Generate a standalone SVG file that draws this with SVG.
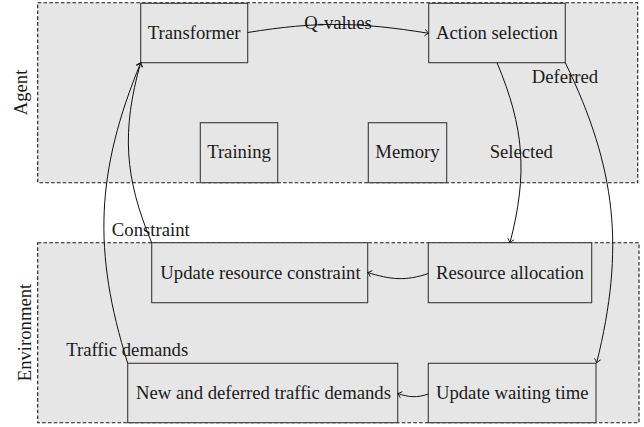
<svg xmlns="http://www.w3.org/2000/svg" width="644" height="427" viewBox="0 0 644 427">
  <defs>
    <style>
      .area { fill: #e6e6e6; stroke: #1a1a1a; stroke-width: 1.1; stroke-dasharray: 3.6 2.2; }
      .node rect { fill: #e6e6e6; stroke: #3a3a3a; stroke-width: 1.1; }
      text { font-family: "Liberation Serif", "Times New Roman", serif; font-size: 18.7px; fill: #1a1a1a; }
      .node text { text-anchor: middle; }
      .lbl { text-anchor: middle; }
      .edge { fill: none; stroke: #111; stroke-width: 1; marker-end: url(#arr); }
    </style>
    <marker id="arr" markerUnits="userSpaceOnUse" markerWidth="10" markerHeight="10" viewBox="-5 -5 10 10" refX="0" refY="0" orient="auto">
      <path d="M-3.8,-3.2 Q-1.6,-0.9 0,0 Q-1.6,0.9 -3.8,3.2" fill="none" stroke="#111" stroke-width="0.9"/>
    </marker>
  </defs>

  <g id="agent-area">
    <rect class="area" x="37.7" y="2.7" width="600" height="180"/>
    <text transform="translate(27,92.5) rotate(-90)" text-anchor="middle">Agent</text>
  </g>
  <g id="environment-area">
    <rect class="area" x="37.7" y="242.7" width="601.3" height="180"/>
    <text transform="translate(31.3,332.5) rotate(-90)" text-anchor="middle">Environment</text>
  </g>

  <g id="transformer" class="node">
    <rect x="140.7" y="3.3" width="107" height="59.4"/>
    <text x="194.2" y="38.6">Transformer</text>
  </g>
  <g id="action-selection" class="node">
    <rect x="428.7" y="3.3" width="136.6" height="59.4"/>
    <text x="497" y="38.8">Action selection</text>
  </g>
  <g id="training" class="node">
    <rect x="200.3" y="122.7" width="77.4" height="60"/>
    <text x="239" y="157.5">Training</text>
  </g>
  <g id="memory" class="node">
    <rect x="368.3" y="122.7" width="78.4" height="60"/>
    <text x="407.5" y="157.5">Memory</text>
  </g>
  <g id="update-resource-constraint" class="node">
    <rect x="151.7" y="242.7" width="216" height="60"/>
    <text x="260.5" y="278.5">Update resource constraint</text>
  </g>
  <g id="resource-allocation" class="node">
    <rect x="428.3" y="242.7" width="163.4" height="60"/>
    <text x="510" y="278.5">Resource allocation</text>
  </g>
  <g id="new-deferred-demands" class="node">
    <rect x="127.7" y="363.3" width="270" height="59.4"/>
    <text x="263.5" y="399">New and deferred traffic demands</text>
  </g>
  <g id="update-waiting-time" class="node">
    <rect x="428.3" y="363.3" width="167.7" height="59.4"/>
    <text x="512.2" y="399">Update waiting time</text>
  </g>

  <g id="labels">
    <text class="lbl" x="338" y="29">Q-values</text>
    <text class="lbl" x="565" y="83">Deferred</text>
    <text class="lbl" x="521.3" y="157.7">Selected</text>
    <text class="lbl" x="150.8" y="235.7">Constraint</text>
    <text class="lbl" x="127.2" y="356">Traffic demands</text>
  </g>

  <g id="connectors">
    <path class="edge" d="M247.7,32.5 C317.7,21.2 358.7,22 428.7,33.3"/>
    <path class="edge" d="M497,62.7 C524.4,127.9 527.8,174.3 510,242.7"/>
    <path class="edge" d="M565.3,62.7 C616.6,168.8 625,247.8 596.7,362.8"/>
    <path class="edge" d="M151.7,242.7 C124.3,177.6 121.5,130.6 140.7,62.7"/>
    <path class="edge" d="M127.7,363.3 C92.5,250.9 95.9,171.7 140.7,62.7"/>
    <path class="edge" d="M428.3,273.5 C405.8,281.3 390.2,279.6 367.7,272.5"/>
    <path class="edge" d="M428.3,394 C416.9,398 409.1,397.3 397.7,393.5"/>
  </g>
</svg>
